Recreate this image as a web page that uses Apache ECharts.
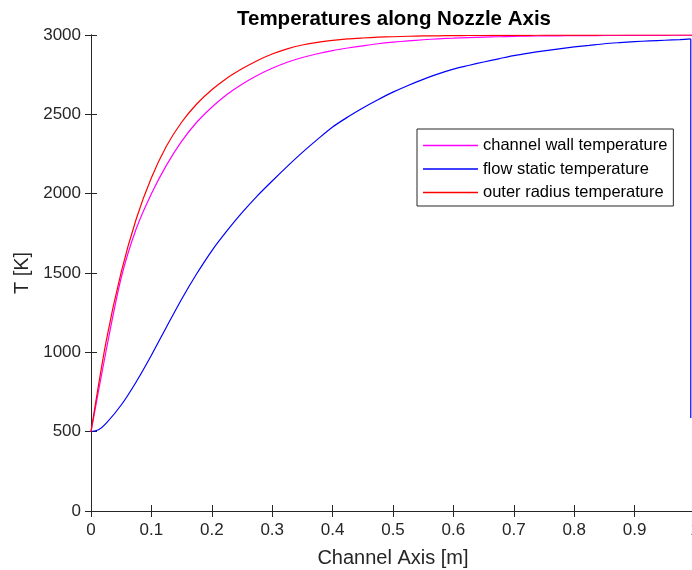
<!DOCTYPE html>
<html>
<head>
<meta charset="utf-8">
<script src="https://cdn.jsdelivr.net/npm/echarts@6/dist/echarts.min.js"></script>
<style>
  html, body { margin: 0; padding: 0; background: #fff; }
  #main { width: 692px; height: 570px; }
</style>
</head>
<body>
<div id="main"></div>
<script>
  // positions along the channel axis [m], every 0.025
  var axisPos = [0, 0.025, 0.05, 0.075, 0.1, 0.125, 0.15, 0.175, 0.2, 0.225, 0.25, 0.275, 0.3, 0.325, 0.35, 0.375,
    0.4, 0.425, 0.45, 0.475, 0.5, 0.525, 0.55, 0.575, 0.6, 0.625, 0.65, 0.675, 0.7, 0.725, 0.75, 0.775,
    0.8, 0.825, 0.85, 0.875, 0.9, 0.925, 0.95, 0.975, 1.0];
  var wallTemp = [500, 1010, 1470, 1780, 2000, 2180, 2330, 2450, 2545, 2625, 2690, 2745, 2790, 2828, 2858, 2882,
    2902, 2918, 2932, 2945, 2955, 2963, 2970, 2976, 2980, 2984, 2987, 2989, 2991, 2993, 2994, 2995,
    2996, 2996, 2997, 2997, 2998, 2998, 2998, 2999, 2999];
  var outerTemp = [500, 1068, 1505, 1842, 2100, 2300, 2450, 2565, 2655, 2728, 2787, 2838, 2880, 2913, 2937, 2954,
    2966, 2975, 2981, 2986, 2989, 2992, 2994, 2995, 2996, 2997, 2997, 2998, 2998, 2998, 2999, 2999,
    2999, 2999, 3000, 3000, 3000, 3000, 3000, 3000, 3000];

  var staticPos = [0, 0.0125, 0.025, 0.05, 0.075, 0.1, 0.125, 0.15, 0.175, 0.2, 0.225, 0.25, 0.275, 0.3, 0.325, 0.35, 0.375,
    0.4, 0.425, 0.45, 0.475, 0.5, 0.525, 0.55, 0.575, 0.6, 0.625, 0.65, 0.675, 0.7, 0.725, 0.75, 0.775,
    0.8, 0.825, 0.85, 0.875, 0.9, 0.925, 0.95, 0.975, 0.993];
  var staticTemp = [500, 512, 552, 668, 815, 982, 1160, 1335, 1495, 1640, 1765, 1880, 1985, 2080, 2172, 2260, 2342,
    2420, 2483, 2540, 2592, 2640, 2682, 2720, 2755, 2785, 2808, 2830, 2850, 2870, 2886, 2900, 2913,
    2925, 2935, 2945, 2952, 2958, 2963, 2967, 2971, 2975];
  // the static temperature falls straight down at the nozzle end
  var dropPos = [0.993, 0.993];
  var dropTemp = [2975, 586];

  function pairs(xs, ys) {
    var out = [];
    for (var i = 0; i < xs.length; i++) out.push([xs[i], ys[i]]);
    return out;
  }

  var axisCol = '#262626';
  var font = 'Liberation Sans, Arial, Helvetica, sans-serif';
  var names = ['channel wall temperature', 'flow static temperature', 'outer radius temperature'];

  var chart = echarts.init(document.getElementById('main'));
  var option = {
    animation: false,
    backgroundColor: '#fff',
    title: {
      text: 'Temperatures along Nozzle Axis',
      left: 389,
      textAlign: 'center',
      top: 4,
      textStyle: { fontFamily: font, fontSize: 20.5, fontWeight: 'bold', color: '#000' }
    },
    legend: {
      orient: 'vertical',
      left: 417,
      top: 129,
      padding: [8, 6, 5, 6],
      icon: 'rect',
      itemWidth: 55,
      itemHeight: 1.5,
      itemGap: 6.5,
      borderColor: axisCol,
      borderWidth: 1,
      backgroundColor: '#fff',
      textStyle: { fontFamily: font, fontSize: 16.5, color: '#000', lineHeight: 17 },
      data: names
    },
    // the frame runs a few pixels past the right edge of the picture
    grid: { left: 91, width: 604, top: 35, bottom: 59, outerBoundsMode: 'none', containLabel: false },
    xAxis: [{
      type: 'value',
      min: 0, max: 1, interval: 0.1,
      name: 'Channel Axis [m]',
      nameLocation: 'middle',
      nameGap: 37,
      nameTextStyle: { fontFamily: font, fontSize: 20, color: axisCol },
      axisLine: { lineStyle: { color: axisCol, width: 1 } },
      axisTick: { inside: true, length: 6, lineStyle: { color: axisCol } },
      axisLabel: {
        fontFamily: font, fontSize: 17, color: axisCol, margin: 11,
        formatter: function (v) { return String(+v.toFixed(1)); }
      },
      splitLine: { show: false }
    }, {
      type: 'value', position: 'top',
      min: 0, max: 1, interval: 0.1,
      axisLine: { lineStyle: { color: axisCol, width: 1 } },
      axisTick: { inside: true, length: 6, lineStyle: { color: axisCol } },
      axisLabel: { show: false },
      splitLine: { show: false }
    }],
    yAxis: [{
      type: 'value',
      min: 0, max: 3000, interval: 500,
      name: 'T [K]',
      nameLocation: 'middle',
      nameGap: 47,
      nameTextStyle: { fontFamily: font, fontSize: 20, color: axisCol },
      axisLine: { show: true, lineStyle: { color: axisCol, width: 1 } },
      axisTick: { show: true, inside: true, length: 6, lineStyle: { color: axisCol } },
      axisLabel: {
        fontFamily: font, fontSize: 17, color: axisCol, margin: 10,
        formatter: function (v) { return String(v); }
      },
      splitLine: { show: false }
    }, {
      type: 'value', position: 'right',
      min: 0, max: 3000, interval: 500,
      axisLine: { show: true, lineStyle: { color: axisCol, width: 1 } },
      axisTick: { show: true, inside: true, length: 6, lineStyle: { color: axisCol } },
      axisLabel: { show: false },
      splitLine: { show: false }
    }],
    series: [{
      name: names[0],
      type: 'line',
      data: pairs(axisPos, wallTemp),
      symbol: 'none',
      smooth: 0.3,
      lineStyle: { color: '#ff00ff', width: 1.2 },
      itemStyle: { color: '#ff00ff' }
    }, {
      name: names[1],
      type: 'line',
      data: pairs(staticPos, staticTemp),
      symbol: 'none',
      smooth: 0.3,
      lineStyle: { color: '#0000ff', width: 1.2 },
      itemStyle: { color: '#0000ff' }
    }, {
      name: names[1],
      type: 'line',
      data: pairs(dropPos, dropTemp),
      symbol: 'none',
      lineStyle: { color: '#0000ff', width: 1.2 },
      itemStyle: { color: '#0000ff' }
    }, {
      name: names[2],
      type: 'line',
      data: pairs(axisPos, outerTemp),
      symbol: 'none',
      smooth: 0.3,
      lineStyle: { color: '#ff0000', width: 1.2 },
      itemStyle: { color: '#ff0000' }
    }]
  };
  chart.setOption(option);
</script>
</body>
</html>
